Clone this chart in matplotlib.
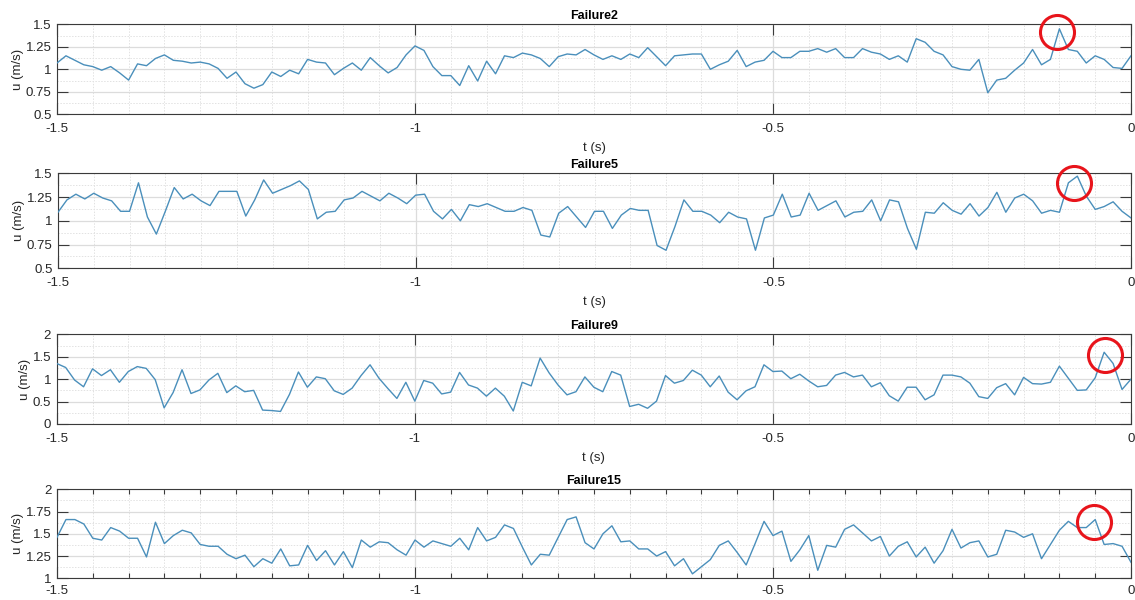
import numpy as np
import matplotlib
matplotlib.use("Agg")
import matplotlib.pyplot as plt
from matplotlib.ticker import MultipleLocator, FixedLocator, FixedFormatter

plt.rcParams["font.family"] = ["Liberation Sans", "DejaVu Sans"]

# Velocity records in the 1.5 s before each failure (dt = 0.0125 s)
failure2 = [1.07, 1.15, 1.10, 1.05, 1.03, 0.99, 1.03, 0.96, 0.88, 1.06,
            1.04, 1.12, 1.16, 1.10, 1.09, 1.07, 1.08, 1.06, 1.01, 0.90,
            0.97, 0.84, 0.79, 0.83, 0.97, 0.92, 0.99, 0.95, 1.11, 1.08,
            1.07, 0.94, 1.01, 1.07, 0.99, 1.13, 1.04, 0.96, 1.02, 1.16,
            1.26, 1.21, 1.03, 0.93, 0.93, 0.82, 1.04, 0.87, 1.09, 0.95,
            1.15, 1.13, 1.18, 1.16, 1.12, 1.03, 1.14, 1.17, 1.16, 1.22,
            1.16, 1.11, 1.15, 1.11, 1.17, 1.13, 1.24, 1.14, 1.04, 1.15,
            1.16, 1.17, 1.17, 1.00, 1.05, 1.09, 1.21, 1.03, 1.08, 1.10,
            1.20, 1.13, 1.13, 1.20, 1.20, 1.23, 1.19, 1.23, 1.13, 1.13,
            1.23, 1.19, 1.17, 1.11, 1.15, 1.08, 1.34, 1.30, 1.20, 1.16,
            1.03, 1.00, 0.99, 1.11, 0.74, 0.88, 0.90, 0.99, 1.07, 1.22,
            1.05, 1.11, 1.45, 1.22, 1.20, 1.07, 1.15, 1.11, 1.02, 1.01,
            1.15]

failure5 = [1.09, 1.22, 1.28, 1.23, 1.29, 1.24, 1.21, 1.10, 1.10, 1.40,
            1.04, 0.86, 1.10, 1.35, 1.23, 1.28, 1.21, 1.16, 1.31, 1.31,
            1.31, 1.05, 1.22, 1.43, 1.29, 1.33, 1.37, 1.42, 1.33, 1.02,
            1.09, 1.10, 1.22, 1.24, 1.31, 1.26, 1.21, 1.29, 1.24, 1.18,
            1.27, 1.28, 1.10, 1.02, 1.12, 1.00, 1.17, 1.15, 1.18, 1.14,
            1.10, 1.10, 1.14, 1.11, 0.85, 0.83, 1.08, 1.15, 1.04, 0.93,
            1.10, 1.10, 0.92, 1.06, 1.13, 1.11, 1.11, 0.74, 0.69, 0.94,
            1.22, 1.10, 1.10, 1.06, 0.98, 1.09, 1.04, 1.02, 0.69, 1.03,
            1.06, 1.28, 1.04, 1.06, 1.29, 1.11, 1.16, 1.21, 1.04, 1.09,
            1.10, 1.22, 1.00, 1.22, 1.20, 0.92, 0.70, 1.09, 1.08, 1.19,
            1.11, 1.07, 1.18, 1.05, 1.14, 1.30, 1.09, 1.24, 1.28, 1.21,
            1.08, 1.11, 1.09, 1.40, 1.47, 1.26, 1.12, 1.15, 1.20, 1.10,
            1.03]

failure9 = [1.35, 1.26, 0.98, 0.83, 1.23, 1.08, 1.21, 0.93, 1.17, 1.28,
            1.24, 0.99, 0.36, 0.70, 1.21, 0.68, 0.76, 0.98, 1.13, 0.70,
            0.85, 0.72, 0.75, 0.31, 0.30, 0.28, 0.66, 1.16, 0.82, 1.05,
            1.01, 0.74, 0.66, 0.80, 1.08, 1.32, 1.02, 0.79, 0.57, 0.93,
            0.51, 0.97, 0.91, 0.67, 0.71, 1.15, 0.87, 0.80, 0.62, 0.80,
            0.62, 0.29, 0.93, 0.85, 1.47, 1.14, 0.87, 0.65, 0.72, 1.05,
            0.82, 0.72, 1.17, 1.09, 0.39, 0.44, 0.35, 0.51, 1.08, 0.91,
            0.97, 1.20, 1.09, 0.83, 1.07, 0.71, 0.54, 0.74, 0.83, 1.32,
            1.17, 1.18, 1.01, 1.11, 0.96, 0.83, 0.86, 1.09, 1.15, 1.05,
            1.09, 0.83, 0.92, 0.63, 0.51, 0.82, 0.82, 0.54, 0.65, 1.09,
            1.09, 1.05, 0.91, 0.61, 0.57, 0.81, 0.90, 0.65, 1.04, 0.90,
            0.89, 0.93, 1.29, 1.02, 0.75, 0.76, 1.03, 1.60, 1.35, 0.77,
            1.00]

failure15 = [1.46, 1.66, 1.66, 1.61, 1.45, 1.43, 1.57, 1.53, 1.45, 1.45,
             1.24, 1.63, 1.39, 1.48, 1.54, 1.51, 1.38, 1.36, 1.36, 1.27,
             1.22, 1.26, 1.13, 1.22, 1.17, 1.33, 1.14, 1.15, 1.37, 1.20,
             1.31, 1.15, 1.30, 1.12, 1.43, 1.35, 1.41, 1.40, 1.32, 1.26,
             1.43, 1.35, 1.42, 1.39, 1.36, 1.45, 1.32, 1.57, 1.42, 1.46,
             1.60, 1.56, 1.35, 1.15, 1.27, 1.26, 1.46, 1.66, 1.69, 1.40,
             1.33, 1.50, 1.59, 1.41, 1.42, 1.33, 1.33, 1.25, 1.30, 1.14,
             1.22, 1.05, 1.13, 1.21, 1.37, 1.42, 1.29, 1.15, 1.39, 1.64,
             1.48, 1.53, 1.19, 1.32, 1.48, 1.09, 1.37, 1.35, 1.55, 1.60,
             1.51, 1.42, 1.47, 1.25, 1.36, 1.41, 1.24, 1.35, 1.17, 1.31,
             1.55, 1.34, 1.40, 1.42, 1.24, 1.27, 1.54, 1.52, 1.46, 1.50,
             1.22, 1.38, 1.54, 1.64, 1.57, 1.57, 1.66, 1.38, 1.39, 1.36,
             1.18]

titles = ["Failure2", "Failure5", "Failure9", "Failure15"]
series = [failure2, failure5, failure9, failure15]

# y-axis ticks for each panel
yticks = [[0.5, 0.75, 1, 1.25, 1.5],
          [0.5, 0.75, 1, 1.25, 1.5],
          [0, 0.5, 1, 1.5, 2],
          [1, 1.25, 1.5, 1.75, 2]]
ytick_labels = [["0.5", "0.75", "1", "1.25", "1.5"],
                ["0.5", "0.75", "1", "1.25", "1.5"],
                ["0", "0.5", "1", "1.5", "2"],
                ["1", "1.25", "1.5", "1.75", "2"]]
xticks = [-1.5, -1, -0.5, 0]
xtick_labels = ["-1.5", "-1", "-0.5", "0"]

# highlighted peaks (circle centres, t in s and u in m/s)
mark_t = [-0.104, -0.080, -0.037, -0.052]
mark_u = [1.41, 1.40, 1.53, 1.63]

W, H = 1135, 600
# axes boxes in pixels: left, top, right, bottom
boxes = [(57, 24.3, 1131, 114.3),
         (58, 173.3, 1131, 268.3),
         (56.7, 334.3, 1131, 424.0),
         (57, 489.3, 1131, 578.3)]

line_color = "#4a8fbb"
axis_color = "#3a3a3a"
text_color = "#262626"

fig = plt.figure(figsize=(W / 100, H / 100), dpi=100)

for k in range(4):
    l, tp, r, b = boxes[k]
    ax = fig.add_axes([l / W, 1 - b / H, (r - l) / W, (b - tp) / H])
    u = np.array(series[k])
    t = np.linspace(-1.5, 0, len(u))
    ax.plot(t, u, color=line_color, lw=1.0, zorder=3)

    ax.set_xlim(-1.5, 0)
    ax.set_ylim(yticks[k][0], yticks[k][-1])
    ax.xaxis.set_major_locator(FixedLocator(xticks))
    ax.xaxis.set_major_formatter(FixedFormatter(xtick_labels))
    ax.yaxis.set_major_locator(FixedLocator(yticks[k]))
    ax.yaxis.set_major_formatter(FixedFormatter(ytick_labels[k]))
    ax.xaxis.set_minor_locator(MultipleLocator(0.05))
    ystep = yticks[k][1] - yticks[k][0]
    ax.yaxis.set_minor_locator(MultipleLocator(ystep / 2))

    ax.set_axisbelow(True)
    ax.grid(which="major", color="#dcdcdc", lw=0.9, ls="-")
    ax.grid(which="minor", color="#e2e2e2", lw=0.7, ls=(0, (1.5, 1.5)))

    for s in ax.spines.values():
        s.set_color(axis_color)
        s.set_linewidth(0.8)

    ax.tick_params(which="major", direction="in", length=7.7, width=0.8,
                   color=axis_color, top=True, right=True,
                   labelsize=9.5, labelcolor=text_color)
    ax.tick_params(axis="y", which="major", pad=4)
    ax.tick_params(axis="x", which="major", pad=6.5 if k < 3 else 5)
    if k == 3:
        ax.tick_params(axis="x", which="minor", direction="in", length=3.5,
                       width=0.8, color=axis_color, top=True, bottom=True)
        ax.tick_params(axis="y", which="minor", length=0)
    else:
        ax.tick_params(which="minor", length=0)
        ax.set_xlabel("t (s)", fontsize=9.5, color=text_color, labelpad=5)

    ax.set_title(titles[k], fontsize=9, fontweight="bold",
                 color="black", pad=4)
    ax.set_ylabel("u (m/s)", fontsize=9.5, color=text_color, labelpad=1)

    ax.plot([mark_t[k]], [mark_u[k]], marker="o", ms=24.5, mfc="none",
            mec="#e8141b", mew=2.2, clip_on=False, zorder=5)

fig.savefig("out.png", dpi=100)
